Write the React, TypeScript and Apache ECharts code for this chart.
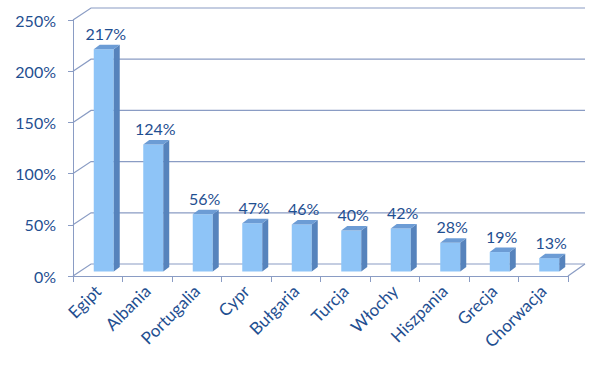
import React, { useEffect, useRef } from 'react';
import * as echarts from 'echarts';

const categories = ['Egipt', 'Albania', 'Portugalia', 'Cypr', 'Bułgaria', 'Turcja', 'Włochy', 'Hiszpania', 'Grecja', 'Chorwacja'];
const values = [217, 124, 56, 47, 46, 40, 42, 28, 19, 13];
const yTicks = [0, 50, 100, 150, 200, 250];

const LINE = '#8A9CC4';
const TEXT = '#1F4F91';
const FONT = 'Lato, "Open Sans", sans-serif';
const DX = 18;
const DY = 12;

export default function App() {
  const ref = useRef<HTMLDivElement>(null);
  useEffect(() => {
    if (!ref.current) return;
    const chart = echarts.init(ref.current, null, { renderer: 'svg' });
    chart.setOption({
      animation: false,
      backgroundColor: '#ffffff',
      grid: { left: 73, right: 32, top: 20, bottom: 93 },
      xAxis: {
        type: 'category',
        data: categories,
        boundaryGap: true,
        axisLine: { show: true, lineStyle: { color: LINE, width: 1 } },
        axisTick: { show: true, interval: 0, length: 6, lineStyle: { color: LINE } },
        axisLabel: {
          interval: 0,
          rotate: 45,
          margin: 12,
          color: TEXT,
          fontSize: 17,
          fontFamily: FONT,
        },
        splitLine: { show: false },
      },
      yAxis: {
        type: 'value',
        min: 0,
        max: 250,
        interval: 50,
        axisLine: { show: true, lineStyle: { color: LINE, width: 1 } },
        axisTick: { show: true, length: 5, lineStyle: { color: LINE } },
        axisLabel: {
          formatter: '{value}%',
          margin: 17,
          color: TEXT,
          fontSize: 16,
          fontFamily: FONT,
        },
        splitLine: { show: false },
      },
      series: [
        {
          type: 'custom',
          z: 1,
          silent: true,
          data: yTicks.map((v) => [0, v]),
          renderItem: (params: any, api: any) => {
            const v = api.value(1);
            const cs = params.coordSys;
            const y = api.coord([0, v])[1];
            const children: any[] = [
              {
                type: 'polyline',
                shape: {
                  points: [
                    [cs.x, y],
                    [cs.x + DX, y - DY],
                    [cs.x + cs.width + DX - 1, y - DY],
                  ],
                },
                style: { stroke: LINE, lineWidth: 1.2, fill: 'none' },
              },
            ];
            if (v === 0) {
              children.push({
                type: 'line',
                shape: { x1: cs.x + cs.width, y1: y, x2: cs.x + cs.width + DX - 1, y2: y - DY },
                style: { stroke: LINE, lineWidth: 1.2 },
              });
            }
            return { type: 'group', children };
          },
        },
        {
          type: 'custom',
          z: 5,
          data: values.map((v, i) => [i, v]),
          renderItem: (params: any, api: any) => {
            const idx = api.value(0);
            const v = api.value(1);
            const top = api.coord([idx, v]);
            const base = api.coord([idx, 0]);
            const cx = top[0];
            const l = cx - 4;
            const r = cx + 16;
            const sdx = 6;
            const sdy = 4.5;
            const yb = base[1] - 4.5;
            const yt = top[1] - 4.5;
            return {
              type: 'group',
              children: [
                {
                  type: 'rect',
                  shape: { x: l, y: yt, width: r - l, height: yb - yt },
                  style: { fill: '#8EC4F7' },
                },
                {
                  type: 'polygon',
                  shape: { points: [[r, yt], [r + sdx, yt - sdy], [r + sdx, yb - sdy], [r, yb]] },
                  style: { fill: '#5683BC' },
                },
                {
                  type: 'polygon',
                  shape: { points: [[l, yt], [l + sdx, yt - sdy], [r + sdx, yt - sdy], [r, yt]] },
                  style: { fill: '#6C9CD5' },
                },
                {
                  type: 'text',
                  x: (l + r) / 2 + 2,
                  y: yt - 16,
                  style: {
                    text: v + '%',
                    fill: TEXT,
                    fontSize: 16,
                    fontFamily: FONT,
                    align: 'center',
                    verticalAlign: 'middle',
                  },
                },
              ],
            };
          },
        },
      ],
    });
    return () => chart.dispose();
  }, []);
  return <div ref={ref} style={{ position: 'absolute', left: 0, top: 0, width: 600, height: 369 }} />;
}
